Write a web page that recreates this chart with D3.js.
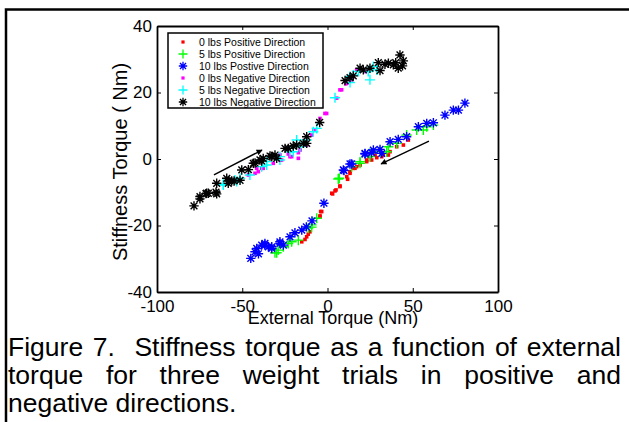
<!DOCTYPE html>
<html lang="en">
<head>
    <meta charset="UTF-8">
    <title>Figure 7</title>
    <script src="https://cdn.jsdelivr.net/npm/d3@7"></script>
    <style>
        body { margin: 0; background: #fff; }
        svg text { font-family: "Liberation Sans", Arial, sans-serif; }
    </style>
</head>
<body>
<svg width="629" height="422" id="fig"></svg>

<script>
    // ---------- data (external torque, stiffness torque) ----------
    var pos0 = [[-15.1,-24.9],[-13.2,-24.2],[-12.2,-23.4],[-11.3,-22.6],[-10.3,-21.9],[-4.4,-17.4],[-4.4,-17.1],[-4,-15.8],[-3.4,-15.8],
        [2.5,-10.3],[3,-10.5],[4.4,-9.6],[5,-9.3],[7.3,-8.3],[7.3,-8.1],[11.3,-5.3],[11.8,-6.1],[13.2,-4.3],[13.2,-3.8],[15.1,-2.8],
        [16.1,-2.8],[17.1,-2.3],[19.1,-1.8],[23,-0.3],[23,-0.8],[24.9,0.7],[25.9,-0.3],[27.9,1.2],[28.9,0.4],[31.8,0.7],[32.7,1.2],
        [35.7,1.2],[36.7,2.2],[40.6,3.7],[44.5,4.2],[47.4,5.7]];
    var pos5 = [[-30.8,-28.2],[-29.8,-28.2],[-28.9,-27.4],[-25.9,-26.4],[-23,-25.4],[-21,-24.9],[-17.1,-24.4],[-11.3,-20.8],[-9.3,-19.8],
        [-9.3,-20.5],[-6.3,-17.8],[6.3,-6],[6.9,-5.8],[14.2,-2.3],[19.1,-1.3],[19.1,-0.8],[24.9,0.7],[24.9,1.7],[30.8,2.2],[34.7,2.2],
        [35.7,3.7],[40.6,4.7],[46.4,7.2],[52.3,8.7],[56.2,8.7],[58.2,9.7],[62.1,10.2]];
    var pos10 = [[-45,-29.9],[-42.5,-27.9],[-41.5,-26.9],[-40.5,-28.5],[-38.6,-25.9],[-36.7,-25.4],[-36.7,-25.9],[-34.7,-26.4],[-32.7,-26.9],
        [-32.7,-26.4],[-27.9,-25.4],[-27.9,-24.9],[-25.9,-25.9],[-22,-23.4],[-19.1,-22.2],[-15.1,-21.4],[-12.4,-20.4],[-9.1,-18.6],
        [-2.1,-13.3],[9.3,-3.3],[9.7,-3.5],[13.2,-1.5],[14.2,-1.5],[22,1.5],[22,1.7],[25.9,1.9],[26.9,2.7],[30.8,2.9],[31.8,1.7],
        [36.7,5.2],[41.5,5.9],[46.4,6.7],[53.3,9.7],[58.2,10.7],[62.1,10.9],[68.9,13.2],[73.8,14.7],[76.8,14.7],[80.6,16.8]];
    var neg0 = [[-46.4,-4.8],[-42.5,-4.3],[-41.5,-2.8],[-40.6,-3.8],[-38.6,-2.8],[-37.7,-2.8],[-31.8,-1.3],[-27.9,-0.3],[-27.9,1.2],
        [-26.9,-0.3],[-23,1.5],[-22,0.7],[-21,0.7],[-17.1,1.9],[-17.1,0.2],[-16.1,2.7],[-12.2,4.2],[-9.3,7.2],[-7.9,8.7],[-4.4,12.2],
        [-1.5,13.7],[-0.5,13.7],[5.4,18.3],[7.3,20.8],[8.3,20.8],[10.7,22.6],[11.3,22.8],[14.2,23.8],[15.1,24.8],[17.1,26.8],[22,26.3]];
    var neg5 = [[-61.1,-7.8],[-61.1,-7.6],[-54.3,-6.3],[-53.3,-6.8],[-51.3,-5.8],[-45.5,-4.8],[-38.6,-2.3],[-35.7,-1.8],[-35.7,-0.8],
        [-27.9,-0.3],[-27.9,0.7],[-22,2.2],[-20.1,2.2],[-18.1,5.7],[-16.1,3.7],[-12.2,5.7],[-8.3,8.2],[-6.3,9.2],[4.4,18.4],[13.2,23],
        [13.2,24.8],[15.1,25.3],[18.1,26.3],[23.9,26.3],[24.9,23.8],[26.9,27.8],[28.9,26.8]];
    var neg10 = [[-78.3,-14.1],[-74.8,-12],[-74.8,-11.3],[-71.3,-10.4],[-70.9,-10.3],[-69.9,-10.3],[-65.4,-10],[-65,-10.5],[-65,-7.3],
        [-59.1,-5.8],[-58.2,-7.3],[-57.8,-6.6],[-56.2,-6.6],[-54.8,-6.6],[-51.3,-6.4],[-50.3,-3.3],[-46.4,-3.2],[-43.5,-1.3],[-42.5,-1.2],
        [-39.6,-0.3],[-38.6,-0.6],[-37.7,0.2],[-33.7,0.9],[-32.7,0.7],[-30.8,1.2],[-29.8,0.2],[-24.9,3.2],[-23,3.2],[-20.1,3.9],
        [-18.1,4.2],[-14.2,4.7],[-12.2,4.7],[-12.2,6.7],[-4.6,11],[10.3,23.6],[13.2,24.5],[15.1,25],[19.1,27.3],[21,26.8],[24.9,27.3],
        [29.8,29],[30.8,26.6],[33.7,28.5],[35.7,28.8],[38.6,28.3],[40,29],[41.5,27.3],[42.5,31.3],[44,28],[44.5,29.5]];

    // direction arrows [from, to]
    var arrowNeg = [[-66.6,-4.8],[-38.4,2.7]];
    var arrowPos = [[59.5,5.4],[31.4,-1.5]];

    var xTicks = [-100, -50, 0, 50, 100];
    var yTicks = [-40, -20, 0, 20, 40];
    var legendLabels = ["0 lbs Positive Direction", "5 lbs Positive Direction", "10 lbs Postive Direction",
        "0 lbs Negative Direction", "5 lbs Negative Direction", "10 lbs Negative Direction"];
    var captionLines = ["Figure 7.  Stiffness torque as a function of external",
        "torque for three weight trials in positive and",
        "negative directions."];

    // ---------- layout ----------
    var svg = d3.select("#fig");
    // plot box edges (note: "top" is reserved on window)
    var boxL = 157, boxR = 498, boxT = 26, boxB = 292;

    var x = d3.scaleLinear().domain([-100, 100]).range([boxL, boxR]);
    var y = d3.scaleLinear().domain([-40, 40]).range([boxB, boxT]);

    svg.append("rect").attr("width", 629).attr("height", 422).attr("fill", "#fff");

    // figure frame (top and left rule)
    svg.append("path")
        .attr("d", "M6,422 V9.5 H629")
        .attr("fill", "none")
        .attr("stroke", "#000")
        .attr("stroke-width", 2.5);

    // marker shapes
    function plusPath(s) {
        return "M" + (-s) + ",0H" + s + "M0," + (-s) + "V" + s;
    }
    function starPath(s) {
        var d = s * 0.72;
        return plusPath(s) + "M" + (-d) + "," + (-d) + "L" + d + "," + d + "M" + (-d) + "," + d + "L" + d + "," + (-d);
    }

    var series = [
        {data: pos0, color: "#ff0000", type: "dot"},
        {data: pos5, color: "#00ff00", type: "plus"},
        {data: pos10, color: "#0000ff", type: "star"},
        {data: neg0, color: "#ff00ff", type: "dot"},
        {data: neg5, color: "#00ffff", type: "plus"},
        {data: neg10, color: "#000000", type: "star"}
    ];
    var dotSize = 3.6, plusSize = 5, starSize = 4.7;

    function drawMarkers(g, s, pts) {
        if (s.type === "dot") {
            g.selectAll("rect").data(pts).enter().append("rect")
                .attr("x", function (d) { return x(d[0]) - dotSize / 2; })
                .attr("y", function (d) { return y(d[1]) - dotSize / 2; })
                .attr("width", dotSize).attr("height", dotSize)
                .attr("fill", s.color);
        } else {
            g.selectAll("path").data(pts).enter().append("path")
                .attr("transform", function (d) { return "translate(" + x(d[0]) + "," + y(d[1]) + ")"; })
                .attr("d", s.type === "plus" ? plusPath(plusSize) : starPath(starSize))
                .attr("fill", "none")
                .attr("stroke", s.color)
                .attr("stroke-width", 1.4);
        }
    }

    series.forEach(function (s) {
        drawMarkers(svg.append("g"), s, s.data);
    });

    // arrows
    svg.append("defs").append("marker")
        .attr("id", "head")
        .attr("viewBox", "0 0 10 10")
        .attr("refX", 9).attr("refY", 5)
        .attr("markerWidth", 8).attr("markerHeight", 6)
        .attr("markerUnits", "userSpaceOnUse")
        .attr("orient", "auto")
        .append("path").attr("d", "M0,0 L10,5 L0,10 Z").attr("fill", "#000");

    [arrowNeg, arrowPos].forEach(function (a) {
        svg.append("line")
            .attr("x1", x(a[0][0])).attr("y1", y(a[0][1]))
            .attr("x2", x(a[1][0])).attr("y2", y(a[1][1]))
            .attr("stroke", "#000")
            .attr("stroke-width", 1.4)
            .attr("marker-end", "url(#head)");
    });

    // axes box with inward ticks on all sides
    var axisFont = 17;
    var fmt = function (d) { return String(d); };
    var gb = svg.append("g").attr("transform", "translate(0," + boxB + ")")
        .call(d3.axisBottom(x).tickValues(xTicks).tickSizeInner(-4).tickSizeOuter(0).tickPadding(8).tickFormat(fmt));
    var gt = svg.append("g").attr("transform", "translate(0," + boxT + ")")
        .call(d3.axisTop(x).tickValues(xTicks).tickSizeInner(-4).tickSizeOuter(0).tickFormat(""));
    var gl = svg.append("g").attr("transform", "translate(" + boxL + ",0)")
        .call(d3.axisLeft(y).tickValues(yTicks).tickSizeInner(-4).tickSizeOuter(0).tickPadding(5).tickFormat(fmt));
    var gr = svg.append("g").attr("transform", "translate(" + boxR + ",0)")
        .call(d3.axisRight(y).tickValues(yTicks).tickSizeInner(-4).tickSizeOuter(0).tickFormat(""));

    [gb, gt, gl, gr].forEach(function (g) {
        g.select(".domain").attr("stroke", "#000").attr("stroke-width", 1.8);
        g.selectAll(".tick line").attr("stroke", "#000").attr("stroke-width", 1);
        g.selectAll("text").attr("font-size", axisFont).attr("fill", "#000")
            .style("font-family", "'Liberation Sans', Arial, sans-serif");
    });

    // axis labels
    svg.append("text")
        .attr("x", 333).attr("y", 324)
        .attr("text-anchor", "middle")
        .attr("font-size", 18)
        .text("External Torque (Nm)");

    svg.append("text")
        .attr("transform", "translate(127,162) rotate(-90)")
        .attr("text-anchor", "middle")
        .attr("font-size", 20)
        .text("Stiffness Torque ( Nm)");

    // legend
    var lg = svg.append("g");
    lg.append("rect")
        .attr("x", 168).attr("y", 33).attr("width", 155).attr("height", 75)
        .attr("fill", "#fff").attr("stroke", "#000").attr("stroke-width", 1.5);

    series.forEach(function (s, i) {
        var ly = 42 + i * 12;
        var g = lg.append("g");
        if (s.type === "dot") {
            g.append("rect").attr("x", 183 - 1.6).attr("y", ly - 1.6).attr("width", 3.2).attr("height", 3.2).attr("fill", s.color);
        } else {
            g.append("path")
                .attr("transform", "translate(183," + ly + ")")
                .attr("d", s.type === "plus" ? plusPath(4.5) : starPath(4.2))
                .attr("fill", "none").attr("stroke", s.color).attr("stroke-width", 1.3);
        }
        g.append("text")
            .attr("x", 199).attr("y", ly + 3.8)
            .attr("font-size", 10.5)
            .text(legendLabels[i]);
    });

    // caption, first two lines justified by widening word gaps
    var capY = [356, 384, 412];
    var capW = 613;
    captionLines.forEach(function (t, i) {
        var txt = svg.append("text")
            .attr("x", 8).attr("y", capY[i])
            .attr("font-size", 26.5)
            .attr("fill", "#000")
            .style("white-space", "pre")
            .text(t);
        if (i < 2) {
            var w = txt.node().getComputedTextLength();
            var gaps = t.split(" ").length - 1;
            txt.attr("word-spacing", Math.max(0, (capW - w) / gaps) + "px");
        }
    });
</script>
</body>
</html>
